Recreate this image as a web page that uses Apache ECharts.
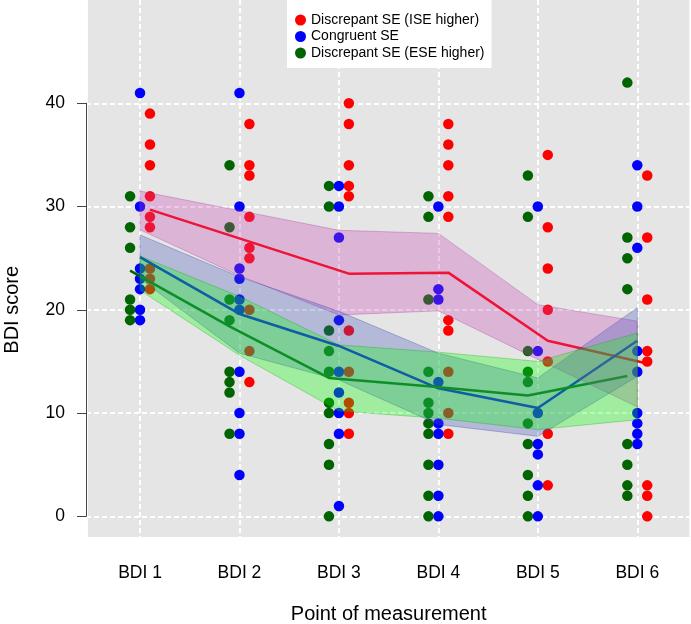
<!DOCTYPE html>
<html>
<head>
<meta charset="utf-8">
<script src="https://cdn.jsdelivr.net/npm/echarts@6/dist/echarts.min.js"></script>
<style>
html,body{margin:0;padding:0;background:#fff;}
#chart{width:691px;height:624px;}
</style>
</head>
<body>
<div id="chart"></div>
<script>
// ---- data ----
const xLabels = ['BDI 1', 'BDI 2', 'BDI 3', 'BDI 4', 'BDI 5', 'BDI 6'];
const yTicks = [0, 10, 20, 30, 40];
const seriesNames = ['Discrepant SE (ISE higher)', 'Congruent SE', 'Discrepant SE (ESE higher)'];

const redPoints = [
  [39, 36, 34, 31, 29, 28, 24, 23, 22],
  [38, 34, 33, 29, 26, 25, 20, 16, 13],
  [40, 38, 34, 32, 31, 18, 14, 11, 10, 8],
  [38, 36, 34, 31, 29, 19, 18, 14, 10, 8],
  [35, 28, 24, 20, 15, 8, 3],
  [33, 27, 21, 16, 15, 3, 2, 0]
];
const bluePoints = [
  [41, 30, 24, 23, 22, 20, 19],
  [41, 30, 24, 23, 21, 20, 14, 10, 8, 4],
  [32, 30, 27, 19, 14, 12, 10, 8, 1],
  [30, 22, 21, 13, 9, 8, 5, 2, 0],
  [30, 16, 10, 7, 6, 3, 0],
  [34, 30, 26, 16, 14, 10, 9, 8, 7]
];
const greenPoints = [
  [31, 28, 26, 21, 20, 19],
  [34, 28, 21, 19, 14, 13, 12, 8],
  [32, 30, 18, 16, 14, 11, 10, 7, 5, 0],
  [31, 29, 21, 14, 11, 10, 9, 8, 5, 2, 0],
  [33, 29, 16, 14, 13, 9, 7, 4, 2, 0],
  [42, 27, 25, 22, 7, 5, 3, 2]
];

const redMean   = [29.7, 26.6, 23.5, 23.6, 17.0, 14.8];
const blueMean  = [25.1, 19.6, 16.5, 12.4, 10.5, 17.0];
const greenMean = [23.8, 18.4, 13.4, 12.6, 11.7, 13.6];

const redUpper   = [31.5, 29.6, 27.7, 27.4, 20.5, 18.9];
const redLower   = [27.75, 23.3, 19.5, 19.9, 15.2, 10.6];
const blueUpper  = [27.25, 23.2, 19.85, 15.8, 13.4, 20.2];
const blueLower  = [23.0, 15.8, 13.2, 8.9, 7.75, 13.55];
const greenUpper = [25.2, 21.3, 16.6, 15.9, 15.0, 17.75];
const greenLower = [21.9, 15.6, 10.2, 9.5, 8.4, 9.36];

// ---- layout ----
const W = 691, H = 624;
const plotL = 87.9, plotR = 689.4, plotT = 0, plotB = 537;
const xMin = 0.476, xMax = 6.524;
const yMin = -2, yMax = 50;
const pxX = v => plotL + (v - xMin) / (xMax - xMin) * (plotR - plotL);
const pxY = v => plotT + (yMax - v) / (yMax - yMin) * (plotB - plotT);

const FONT = "'Liberation Sans', Arial, Helvetica, sans-serif";
const off = { red: 0.1, blue: 0, green: -0.1 };

function pts(arr, o) {
  const out = [];
  arr.forEach((vals, i) => vals.forEach(v => out.push([i + 1 + o, v])));
  return out;
}
function meanLine(arr, o) { return arr.map((v, i) => [i + 1 + o, v]); }

function ribbon(name, upper, lower, fill, stroke) {
  return {
    type: 'custom', name: name, xAxisIndex: 0, yAxisIndex: 0, z: 6, silent: true,
    data: [[1, upper[0]]],
    renderItem: function (params, api) {
      const p = [];
      for (let i = 0; i < upper.length; i++) p.push(api.coord([i + 1, upper[i]]));
      for (let i = lower.length - 1; i >= 0; i--) p.push(api.coord([i + 1, lower[i]]));
      return { type: 'polygon', shape: { points: p }, style: { fill: fill, stroke: stroke, lineWidth: 1 } };
    }
  };
}

const chart = echarts.init(document.getElementById('chart'), null, { renderer: 'canvas' });
const dash = { color: '#ffffff', width: 2, type: [5, 3] };

const option = {
  animation: false,
  textStyle: { fontFamily: FONT },
  grid: [
    { left: plotL, right: W - plotR, top: plotT, bottom: H - plotB, show: true, backgroundColor: '#e5e5e5', borderWidth: 0, z: 0, containLabel: false, outerBoundsMode: 'none' },
    { left: 86, right: W - plotR, top: pxY(40), bottom: H - pxY(0), show: false, z: 1, containLabel: false, outerBoundsMode: 'none' },
    { left: pxX(1), right: W - pxX(6), top: plotT, bottom: H - plotB, show: false, z: 1, containLabel: false, outerBoundsMode: 'none' }
  ],
  xAxis: [
    { gridIndex: 0, type: 'value', min: xMin, max: xMax, show: false },
    { gridIndex: 1, type: 'value', min: 0, max: 1, show: false },
    {
      gridIndex: 2, type: 'value', min: 1, max: 6, interval: 1, z: 1,
      axisLine: { show: false }, axisTick: { show: false },
      splitLine: { show: true, lineStyle: dash },
      axisLabel: { formatter: v => xLabels[Math.round(v) - 1] || '', fontSize: 17.5, color: '#000', margin: 27, fontFamily: FONT },
      name: 'Point of measurement', nameLocation: 'middle', nameGap: 67,
      nameTextStyle: { fontSize: 20, color: '#000', fontFamily: FONT }
    }
  ],
  yAxis: [
    { gridIndex: 0, type: 'value', min: yMin, max: yMax, show: false },
    {
      gridIndex: 1, type: 'value', min: yTicks[0], max: yTicks[yTicks.length - 1], interval: 10, z: 1,
      axisLine: { show: true, lineStyle: { color: '#444', width: 1 } },
      axisTick: { show: true, length: 9, lineStyle: { color: '#444', width: 1 } },
      axisLabel: { fontSize: 17.5, color: '#000', margin: 21, fontFamily: FONT },
      splitLine: { show: true, lineStyle: dash },
      name: 'BDI score', nameLocation: 'middle', nameGap: 64, nameRotate: 90,
      nameTextStyle: { fontSize: 20, color: '#000', fontFamily: FONT }
    },
    { gridIndex: 2, type: 'value', min: 0, max: 1, show: false }
  ],
  legend: {
    data: seriesNames.map(n => ({ name: n, icon: 'circle' })),
    orient: 'vertical', left: 287, top: 0,
    backgroundColor: '#ffffff', borderWidth: 0,
    padding: [13, 7, 8, 8], itemGap: 2.5, itemWidth: 11, itemHeight: 11,
    textStyle: { fontSize: 14, color: '#000', fontFamily: FONT, lineHeight: 14 },
    selectedMode: false, z: 20
  },
  series: [
    { type: 'scatter', name: seriesNames[0], data: pts(redPoints, off.red), symbolSize: 10.5, itemStyle: { color: '#ff0000', opacity: 1 }, z: 2, silent: true },
    { type: 'scatter', name: seriesNames[1], data: pts(bluePoints, off.blue), symbolSize: 10.5, itemStyle: { color: '#0000ff', opacity: 1 }, z: 2, silent: true },
    { type: 'scatter', name: seriesNames[2], data: pts(greenPoints, off.green), symbolSize: 10.5, itemStyle: { color: '#006400', opacity: 1 }, z: 2, silent: true },
    { type: 'line', name: 'mean1', data: meanLine(redMean, off.red), symbol: 'none', lineStyle: { color: '#ff0000', width: 2.5 }, z: 3, silent: true },
    { type: 'line', name: 'mean2', data: meanLine(blueMean, off.blue), symbol: 'none', lineStyle: { color: '#0000ff', width: 2.5 }, z: 3, silent: true },
    { type: 'line', name: 'mean3', data: meanLine(greenMean, off.green), symbol: 'none', lineStyle: { color: '#006400', width: 2.5 }, z: 3, silent: true },
    ribbon('band1', redUpper, redLower, 'rgba(199,66,179,0.3)', 'rgba(170,60,160,0.35)'),
    ribbon('band2', blueUpper, blueLower, 'rgba(66,82,186,0.3)', 'rgba(60,70,170,0.35)'),
    ribbon('band3', greenUpper, greenLower, 'rgba(0,255,0,0.3)', 'rgba(0,160,0,0.3)')
  ]
};
chart.setOption(option);
</script>
</body>
</html>
